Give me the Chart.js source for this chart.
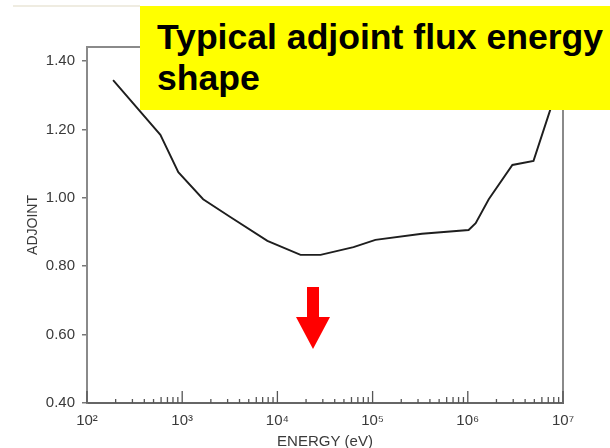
<!DOCTYPE html>
<html>
<head>
<meta charset="utf-8">
<script src="https://cdn.jsdelivr.net/npm/chart.js@4"></script>
<style>
  html, body { margin: 0; padding: 0; background: #ffffff; overflow: hidden; }
  #wrap { position: relative; width: 610px; height: 448px; }
  #c { position: absolute; left: 0; top: 0; }
  #topline { position: absolute; left: 13px; top: 5px; width: 127px; height: 2px; background: #efece1; }
  #titlebox {
    position: absolute; left: 140px; top: 6px; width: 470px; height: 104px;
    background: #ffff00; box-sizing: border-box; padding: 11px 0 0 17px;
    font-family: "Liberation Sans", Arial, sans-serif; font-weight: bold;
    font-size: 35.6px; line-height: 41px; color: #000; white-space: nowrap;
  }
  #arrow { position: absolute; left: 0; top: 0; pointer-events: none; }
</style>
</head>
<body>
<div id="wrap">
  <canvas id="c" width="610" height="448"></canvas>
  <div id="topline"></div>
  <svg id="arrow" width="610" height="448">
    <polygon points="307,287 319,287 319,317 330,317 313,349 296,317 307,317" fill="#ff0000"/>
  </svg>
  <div id="titlebox">Typical adjoint flux energy<br>shape</div>
</div>
<script>
// ---- data ----
const energies = [188, 590, 910, 1660, 3200, 7850, 17500, 28400, 63000, 107000, 330000, 1020000, 1210000, 1660000, 2940000, 4900000, 7400000, 9500000];
const adjoint  = [1.344, 1.184, 1.075, 0.996, 0.944, 0.874, 0.833, 0.833, 0.856, 0.877, 0.895, 0.906, 0.926, 0.996, 1.096, 1.108, 1.26, 1.39];

const yTickValues = [0.40, 0.60, 0.80, 1.00, 1.20, 1.40];
const xTickValues = [1e2, 1e3, 1e4, 1e5, 1e6, 1e7];
const xTickLabels = ['10²', '10³', '10⁴', '10⁵', '10⁶', '10⁷'];
const minorMultipliers = [2, 3, 4, 5, 6, 7, 8, 9];

const xTitle = 'ENERGY (eV)';
const yTitle = 'ADJOINT';

const points = energies.map((e, i) => ({ x: e, y: adjoint[i] }));

const frameAndTicks = {
  id: 'frameAndTicks',
  afterDraw(chart) {
    const { ctx, chartArea: a, scales: { x } } = chart;
    ctx.save();
    // top and right frame lines
    ctx.strokeStyle = '#8a8a8a';
    ctx.lineWidth = 2;
    ctx.beginPath();
    ctx.moveTo(a.left, a.top);
    ctx.lineTo(a.right, a.top);
    ctx.lineTo(a.right, a.bottom);
    ctx.stroke();
    // inward ticks on the energy axis
    ctx.strokeStyle = '#555';
    ctx.lineWidth = 1.3;
    ctx.beginPath();
    for (let d = 0; d < xTickValues.length; d++) {
      const dec = xTickValues[d];
      const px = x.getPixelForValue(dec);
      ctx.moveTo(px, a.bottom);
      ctx.lineTo(px, a.bottom - 12);
      if (d < xTickValues.length - 1) {
        minorMultipliers.forEach(m => {
          const p = x.getPixelForValue(dec * m);
          const len = m >= 6 ? 6 : 4;
          ctx.moveTo(p, a.bottom);
          ctx.lineTo(p, a.bottom - len);
        });
      }
    }
    ctx.stroke();
    ctx.restore();
  }
};

new Chart(document.getElementById('c'), {
  type: 'scatter',
  data: {
    datasets: [{
      data: points,
      showLine: true,
      borderColor: '#1e1e1e',
      borderWidth: 1.9,
      pointRadius: 0,
      tension: 0,
      fill: false
    }]
  },
  options: {
    responsive: false,
    animation: false,
    devicePixelRatio: 1,
    layout: { padding: { top: 47, right: 47, left: 0, bottom: 0 } },
    plugins: { legend: { display: false }, tooltip: { enabled: false } },
    scales: {
      x: {
        type: 'logarithmic',
        position: 'bottom',
        min: 1e2,
        max: 1e7,
        afterBuildTicks: s => { s.ticks = xTickValues.map(v => ({ value: v })); },
        afterFit: s => { s.height = 45; },
        ticks: {
          autoSkip: false,
          maxRotation: 0,
          padding: 9,
          color: '#3a3a3a',
          font: { family: '"Liberation Sans", Arial, sans-serif', size: 15 },
          callback: (v, i) => xTickLabels[i]
        },
        grid: { display: false, drawTicks: false },
        border: { display: true, color: '#666', width: 2 },
        title: {
          display: true,
          text: xTitle,
          color: '#3a3a3a',
          font: { family: '"Liberation Sans", Arial, sans-serif', size: 15 },
          padding: { top: 0, bottom: -3 }
        }
      },
      y: {
        type: 'linear',
        min: 0.40,
        max: 1.441,
        afterBuildTicks: s => { s.ticks = yTickValues.map(v => ({ value: v })); },
        afterFit: s => { s.width = 87; },
        ticks: {
          padding: 7,
          color: '#3a3a3a',
          font: { family: '"Liberation Sans", Arial, sans-serif', size: 15 },
          callback: v => Number(v).toFixed(2)
        },
        grid: { display: true, drawOnChartArea: false, drawTicks: true, tickLength: 5, color: '#777', lineWidth: 1.5 },
        border: { display: true, color: '#8a8a8a', width: 2 },
        title: {
          display: true,
          text: yTitle,
          color: '#3a3a3a',
          font: { family: '"Liberation Sans", Arial, sans-serif', size: 14 },
          padding: { top: 25, bottom: 0 }
        }
      }
    }
  },
  plugins: [frameAndTicks]
});
</script>
</body>
</html>
